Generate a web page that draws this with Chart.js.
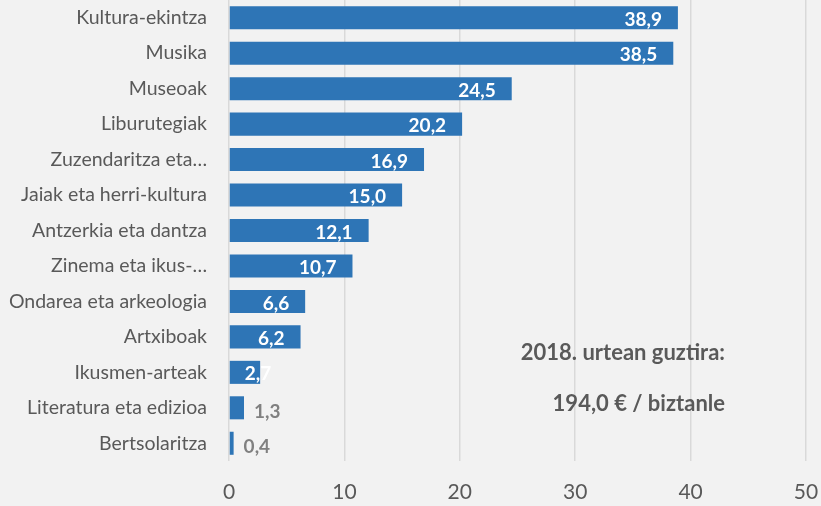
<!DOCTYPE html>
<html>
<head>
<meta charset="utf-8">
<script src="https://cdn.jsdelivr.net/npm/chart.js@4"></script>
<style>
    html, body { margin: 0; padding: 0; background: #f2f2f2; }
    #wrap { width: 821px; height: 506px; }
</style>
</head>
<body>
<div id="wrap"><canvas id="chart"></canvas></div>
<script>
// Data
const categories = [
    'Kultura-ekintza', 'Musika', 'Museoak', 'Liburutegiak', 'Zuzendaritza eta…',
    'Jaiak eta herri-kultura', 'Antzerkia eta dantza', 'Zinema eta ikus-…',
    'Ondarea eta arkeologia', 'Artxiboak', 'Ikusmen-arteak', 'Literatura eta edizioa', 'Bertsolaritza'
];
const values = [38.9, 38.5, 24.5, 20.2, 16.9, 15.0, 12.1, 10.7, 6.6, 6.2, 2.7, 1.3, 0.4];
const xTicks = [0, 10, 20, 30, 40, 50];
const noteLines = ['2018. urtean guztira:', '194,0 € / biztanle'];

const FONT = "Lato, 'Open Sans', sans-serif";
const TEXT = '#595959';

function fmt(v) {
    return v.toFixed(1).replace('.', ',');
}

// Value labels: white inside bar end, grey outside for the tiny bars
const valueLabels = {
    id: 'valueLabels',
    afterDatasetsDraw(chart) {
        const ctx = chart.ctx;
        const meta = chart.getDatasetMeta(0);
        ctx.save();
        ctx.font = 'bold 19px ' + FONT;
        ctx.textBaseline = 'middle';
        ctx.textAlign = 'left';
        meta.data.forEach((bar, i) => {
            const v = values[i];
            const txt = fmt(v);
            const w = ctx.measureText(txt).width;
            if (v >= 2) {
                ctx.fillStyle = '#ffffff';
                const x = Math.max(bar.x - 16 - w, bar.base + 15);
                ctx.fillText(txt, x, bar.y + 2);
            } else {
                ctx.fillStyle = '#808080';
                ctx.fillText(txt, bar.x + 10, bar.y + 4);
            }
        });
        ctx.restore();
    }
};

// Total note on the right
const note = {
    id: 'note',
    afterDraw(chart) {
        const ctx = chart.ctx;
        ctx.save();
        ctx.font = 'bold 22px ' + FONT;
        ctx.fillStyle = TEXT;
        ctx.textAlign = 'right';
        ctx.textBaseline = 'middle';
        ctx.fillText(noteLines[0], 725, 353);
        ctx.fillText(noteLines[1], 725, 404);
        ctx.restore();
    }
};

const bgPlugin = {
    id: 'bg',
    beforeDraw(chart) {
        const ctx = chart.ctx;
        ctx.save();
        ctx.fillStyle = '#f2f2f2';
        ctx.fillRect(0, 0, chart.width, chart.height);
        ctx.restore();
    }
};

new Chart(document.getElementById('chart'), {
    type: 'bar',
    data: {
        labels: categories,
        datasets: [{
            data: values,
            backgroundColor: '#2e75b6',
            borderWidth: 0,
            barPercentage: 0.65,
            categoryPercentage: 1.0
        }]
    },
    plugins: [bgPlugin, valueLabels, note],
    options: {
        indexAxis: 'y',
        responsive: true,
        maintainAspectRatio: false,
        animation: false,
        layout: { padding: { top: 0, right: 15, bottom: 0, left: 0 } },
        plugins: {
            legend: { display: false },
            tooltip: { enabled: false }
        },
        scales: {
            x: {
                min: 0,
                max: 50,
                afterBuildTicks(scale) {
                    scale.ticks = xTicks.map(v => ({ value: v }));
                },
                afterFit(scale) {
                    scale.height = 45;
                    scale.paddingLeft = 0;
                    scale.paddingRight = 0;
                },
                grid: { color: '#d9d9d9', lineWidth: 1.5, drawTicks: false },
                border: { display: false },
                ticks: {
                    color: TEXT,
                    font: { family: FONT, size: 21 },
                    padding: 19
                }
            },
            y: {
                afterFit(scale) {
                    scale.width = 229;
                    scale.paddingTop = 0;
                    scale.paddingBottom = 0;
                },
                grid: { display: false, drawTicks: false },
                border: { display: false },
                ticks: {
                    color: TEXT,
                    font: { family: FONT, size: 19.5 },
                    padding: 22,
                    autoSkip: false
                }
            }
        }
    }
});
</script>
</body>
</html>
